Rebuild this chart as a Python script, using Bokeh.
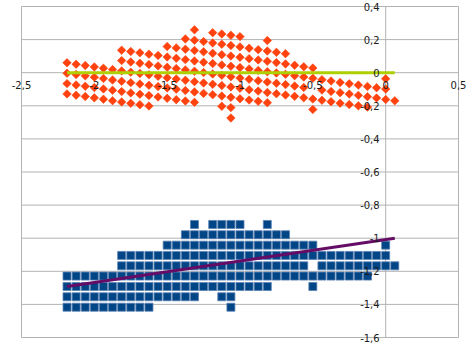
from bokeh.plotting import figure
from bokeh.models import Range1d, FixedTicker, CustomJSTickFormatter
from bokeh.embed import file_html
from bokeh.resources import INLINE

# ---- data ----
x_grid = [-2.1875, -2.125, -2.0625, -2.0, -1.9375, -1.875, -1.8125, -1.75, -1.6875,
          -1.625, -1.5625, -1.5, -1.4375, -1.375, -1.3125, -1.25, -1.1875, -1.125,
          -1.0625, -1.0, -0.9375, -0.875, -0.8125, -0.75, -0.6875, -0.625, -0.5625,
          -0.5, -0.4375, -0.375, -0.3125, -0.25, -0.1875, -0.125, -0.0625, 0.0, 0.0625]

# blue squares: one row per y level, runs of occupied x_grid columns (first, last)
blue_levels = [-0.917, -0.979, -1.042, -1.104, -1.167, -1.229, -1.292, -1.354, -1.417]
blue_runs = [
    [(14, 14), (16, 19), (22, 22)],
    [(13, 24)],
    [(11, 27), (35, 35)],
    [(6, 35)],
    [(6, 26), (28, 36)],
    [(0, 33)],
    [(0, 22), (27, 27)],
    [(0, 14), (17, 18)],
    [(0, 9), (18, 18)],
]

# orange diamonds: y values for each x_grid column
orange_cols = [
    [0.060, -0.003, -0.066, -0.128],
    [0.051, -0.011, -0.074, -0.136],
    [0.043, -0.019, -0.082, -0.144],
    [0.035, -0.027, -0.090, -0.152],
    [0.027, -0.035, -0.098, -0.160],
    [0.019, -0.044, -0.106, -0.169],
    [0.136, 0.073, 0.011, -0.052, -0.114, -0.177],
    [0.128, 0.065, 0.003, -0.060, -0.122, -0.185],
    [0.120, 0.057, -0.005, -0.068, -0.130, -0.193],
    [0.112, 0.049, -0.013, -0.076, -0.138, -0.201],
    [0.104, 0.041, -0.022, -0.084, -0.147],
    [0.158, 0.095, 0.033, -0.030, -0.092, -0.155],
    [0.150, 0.087, 0.025, -0.038, -0.100, -0.163],
    [0.204, 0.142, 0.079, 0.017, -0.046, -0.108, -0.171],
    [0.259, 0.196, 0.134, 0.071, 0.009, -0.054, -0.116, -0.179],
    [0.188, 0.126, 0.063, 0.001, -0.062, -0.125],
    [0.242, 0.180, 0.117, 0.055, -0.008, -0.070, -0.133],
    [0.234, 0.172, 0.109, 0.047, -0.016, -0.078, -0.141, -0.203],
    [0.226, 0.164, 0.101, 0.039, -0.024, -0.086, -0.149, -0.211, -0.274],
    [0.218, 0.156, 0.093, 0.031, -0.032, -0.094, -0.157],
    [0.148, 0.085, 0.023, -0.040, -0.103, -0.165],
    [0.139, 0.077, 0.014, -0.048, -0.111, -0.173],
    [0.194, 0.131, 0.069, 0.006, -0.056, -0.119, -0.181],
    [0.123, 0.061, -0.002, -0.064, -0.127],
    [0.115, 0.053, -0.010, -0.072, -0.135],
    [0.045, -0.018, -0.081, -0.143],
    [0.036, -0.026, -0.089, -0.151],
    [0.028, -0.034, -0.159, -0.222],
    [-0.042, -0.105, -0.167],
    [-0.050, -0.113, -0.175],
    [-0.059, -0.121, -0.184],
    [-0.067, -0.129, -0.192],
    [-0.075, -0.137, -0.200],
    [-0.083, -0.145, -0.208],
    [-0.091, -0.153],
    [-0.037, -0.099, -0.162],
    [-0.170],
]

green_trend_x = [-2.1875, 0.0625]
green_trend_y = [0.0, 0.0]
purple_trend_x = [-2.1875, 0.0625]
purple_trend_y = [-1.292, -1.0]

x_ticks = [-2.5, -2.0, -1.5, -1.0, -0.5, 0.0, 0.5]
y_ticks = [0.4, 0.2, 0.0, -0.2, -0.4, -0.6, -0.8, -1.0, -1.2, -1.4, -1.6]

X_MIN, X_MAX = -2.5, 0.5
Y_MIN, Y_MAX = -1.6, 0.4

# ---- build sources ----
bx, by = [], []
for lvl, runs in zip(blue_levels, blue_runs):
    for a, b in runs:
        for i in range(a, b + 1):
            bx.append(x_grid[i])
            by.append(lvl)

ox, oy = [], []
for i, ys in enumerate(orange_cols):
    for yv in ys:
        ox.append(x_grid[i])
        oy.append(yv)

# The frame covers the whole canvas so the axis labels at the ends are not clipped;
# the visible plot box (-2.5..0.5, -1.6..0.4) sits at px 21..458 x 6..337.
W, H = 473, 357
PX_L, PX_R, PX_T, PX_B = 21, 458, 6, 337
sx = (PX_R - PX_L) / (X_MAX - X_MIN)
sy = (PX_B - PX_T) / (Y_MAX - Y_MIN)
xr = Range1d(X_MIN - PX_L / sx, X_MAX + (W - PX_R) / sx)
yr = Range1d(Y_MIN - (H - PX_B) / sy, Y_MAX + PX_T / sy)

p = figure(width=W, height=H, output_backend="svg", toolbar_location=None,
           x_range=xr, y_range=yr,
           min_border_left=0, min_border_right=0, min_border_top=0,
           min_border_bottom=0)

p.background_fill_color = "white"
p.border_fill_color = "white"
p.outline_line_color = None
p.xgrid.visible = False
p.ygrid.visible = False

GRID = "#b3b3b3"
# horizontal major grid lines, the two side edges of the plot box and the y axis line
p.segment(x0=[X_MIN] * len(y_ticks), x1=[X_MAX] * len(y_ticks), y0=y_ticks, y1=y_ticks,
          line_color=GRID, line_width=1)
p.segment(x0=[X_MIN, X_MAX, 0.0], x1=[X_MIN, X_MAX, 0.0],
          y0=[Y_MIN, Y_MIN, Y_MIN], y1=[Y_MAX, Y_MAX, Y_MAX],
          line_color=GRID, line_width=1)

fmt = CustomJSTickFormatter(code="""
const v = Math.round(tick*10)/10;
return String(v).replace('.', ',');
""")

for ax in (p.xaxis[0], p.yaxis[0]):
    ax.fixed_location = 0
    ax.axis_line_color = None
    ax.major_tick_in = 0
    ax.major_tick_out = 0
    ax.minor_tick_in = 0
    ax.minor_tick_out = 0
    ax.major_label_text_font = "DejaVu Sans"
    ax.major_label_text_font_size = "10px"
    ax.major_label_text_color = "#1a1a1a"
    ax.formatter = fmt

p.xaxis[0].ticker = FixedTicker(ticks=x_ticks)
p.yaxis[0].ticker = FixedTicker(ticks=y_ticks)
p.xaxis[0].bounds = (X_MIN, X_MAX)
p.yaxis[0].bounds = (Y_MIN, Y_MAX)
p.xaxis[0].major_label_standoff = 8
p.yaxis[0].major_label_standoff = 6

p.scatter(x=bx, y=by, marker="square", size=8, fill_color="#004586",
          line_color="#5a82b2", line_width=0.8)
p.scatter(x=ox, y=oy, marker="square", angle=0.7853981634, size=6,
          fill_color="#ff420e", line_color="#ff420e", line_width=0.6)

p.line(x=green_trend_x, y=green_trend_y, line_color="#aecf00", line_width=3)
p.line(x=purple_trend_x, y=purple_trend_y, line_color="#650d66", line_width=3)

open("out.html", "w").write(file_html(p, INLINE))
